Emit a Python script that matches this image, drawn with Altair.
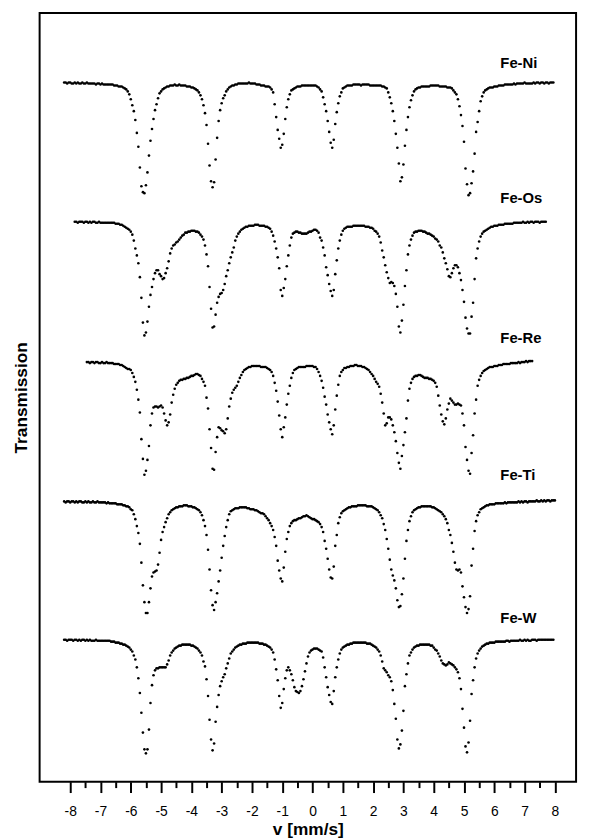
import altair as alt
import pandas as pd

# channel grid of the spectra (mm/s)
V0 = -8.20
DV = 0.05

samples = ["Fe-Ni", "Fe-Os", "Fe-Re", "Fe-Ti", "Fe-W"]
first_channel = [0, 7, 15, 0, 0]
offset_pct = [0.0, 14.1, 28.3, 42.4, 56.4]      # vertical shift of each spectrum (%)
label_pct = [102.0, 88.3, 74.1, 60.3, 45.8]      # level of the sample labels (%)
label_v = 6.2

tick_values = [-8, -7.5, -7, -6.5, -6, -5.5, -5, -4.5, -4, -3.5, -3, -2.5, -2, -1.5, -1, -0.5,
               0, 0.5, 1, 1.5, 2, 2.5, 3, 3.5, 4, 4.5, 5, 5.5, 6, 6.5, 7, 7.5, 8]

# absorption in per mille, one value per channel
abs_fe_ni = [
    0,0,1,0,0,1,1,0,1,0, 1,1,0,1,1,0,1,1,1,1, 1,2,1,1,2,1,2,2,2,2, 2,2,2,3,3,3,4,4,4,5,
    6,7,9,12,17,23,29,38,51,65, 86,105,111,112,104,91,74,59,47,37, 28,22,16,11,9,7,6,5,4,4,
    3,3,3,2,3,3,2,3,3,3, 3,4,4,4,5,5,6,7,8,10, 13,17,23,31,43,62,84,100,106,101,
    78,56,39,28,21,16,13,9,7,5, 4,3,3,2,2,1,1,1,1,1, 1,1,0,1,1,1,1,2,2,2,
    3,3,3,4,4,4,5,7,10,22, 35,48,57,66,63,52,37,25,17,12, 8,7,6,5,4,4,4,3,3,3,
    3,3,3,3,3,3,3,4,5,7, 9,15,22,29,39,50,61,66,58,42, 30,21,14,10,6,5,4,3,3,3,
    3,2,2,2,2,2,3,2,2,2, 2,2,3,3,3,3,3,3,3,3, 4,4,5,6,10,15,21,29,39,52,
    66,82,100,96,83,64,48,35,25,18, 13,9,7,6,5,5,4,4,4,4, 4,4,3,3,3,3,3,3,4,4,
    4,4,4,5,5,5,6,8,10,12, 17,24,33,44,60,87,103,114,112,102, 90,72,50,40,29,19,14,10,8,7,
    6,5,5,5,4,4,4,3,3,3, 3,2,2,2,2,2,2,1,2,1, 1,1,1,1,0,1,1,1,1,1, 0,1,0,0,1,0,0,1,0,0,
    1,0,0,0,
]

abs_fe_os = [
    0,0,1,
    0,0,0,1,0,0,1,0,1,0, 0,1,1,0,1,1,1,1,1,1, 1,1,1,1,2,2,2,3,3,4,
    5,6,7,8,10,13,19,27,34,42, 56,77,102,115,112,101,86,74,66,58, 52,49,49,53,55,58,57,52,47,40,
    32,27,24,23,21,20,18,16,14,13, 11,11,10,10,9,9,9,10,10,11, 13,15,18,24,33,45,66,88,107,106,
    94,82,76,73,72,69,63,55,49,42, 36,31,26,19,15,12,10,8,7,6, 5,5,4,4,4,4,3,3,3,4,
    4,4,4,5,5,6,7,10,14,20, 27,36,47,69,75,67,58,45,34,24, 16,12,11,10,10,11,11,12,12,12,
    12,11,10,10,9,8,8,9,11,16, 19,26,34,46,54,63,70,75,69,53, 39,27,19,13,9,7,6,5,5,5,
    5,4,4,4,4,4,4,4,4,5, 5,5,6,6,7,9,10,12,15,21, 29,36,44,51,57,62,61,62,65,73,
    86,106,112,100,84,65,49,33,24,18, 14,11,10,10,9,9,9,10,10,11, 12,12,13,14,15,17,18,20,24,26,
    31,37,42,48,55,56,52,47,44,44, 46,52,59,69,81,97,108,113,113,96, 82,58,37,27,20,15,12,10,9,8,
    7,6,5,5,4,4,4,3,3,3, 3,2,2,2,2,2,2,1,1,1, 1,1,1,0,1,1,0,1,0,0, 1,0,0,0,1,0,0,0,0,
]

abs_fe_re = [
    0,0,1,0,0,
    1,0,0,1,1,0,1,1,0,1, 1,1,1,2,2,2,2,3,3,4,
    5,6,7,7,8,11,15,20,28,38, 51,78,98,114,110,99,85,64,52,46, 45,45,46,45,44,46,52,59,64,61,
    53,41,33,27,23,21,19,18,18,17, 17,16,16,15,14,14,13,12,12,13, 14,17,20,24,36,47,68,87,108,109,
    91,76,66,67,69,70,72,68,57,45, 37,31,28,26,24,20,16,13,10,8, 7,6,5,5,4,4,4,4,4,4,
    5,5,5,5,6,7,8,10,14,21, 29,40,54,68,76,66,56,43,32,24, 16,11,8,7,6,5,5,5,5,5,
    4,4,4,4,4,5,5,7,10,14, 19,26,35,43,53,61,68,73,64,48, 34,23,14,10,8,6,6,5,5,4,
    4,4,3,3,4,4,4,5,5,6, 7,8,10,12,14,17,20,22,25,32, 41,52,64,62,56,56,58,64,71,80,
    92,102,108,95,84,71,57,39,27,21, 17,15,14,14,13,13,14,15,16,16, 16,17,17,18,19,21,25,34,44,53,
    60,63,57,48,42,37,39,41,43,43, 42,43,44,52,64,86,99,110,113,92, 74,52,38,24,18,14,11,9,8,7,
    6,5,5,5,4,4,4,3,3,3, 2,2,2,2,2,1,1,1,1,1, 0,1,0,0,0,-1,0,-1,-1,-1,
]

abs_fe_ti = [
    0,1,0,0,1,0,0,1,0,1, 0,0,1,1,0,1,0,1,1,0, 1,1,0,1,1,1,1,1,2,1, 2,2,2,2,2,3,3,3,3,4,
    4,5,5,6,8,9,13,18,25,32, 43,62,85,102,113,113,102,88,76,72, 71,70,64,52,39,31,26,21,17,13,
    11,9,8,7,6,6,5,5,5,4, 4,4,5,5,5,6,6,7,8,9, 11,14,19,25,34,49,69,90,105,110,
    102,93,81,70,57,45,35,26,19,13, 10,9,8,7,7,7,6,6,6,6, 6,7,7,8,8,8,9,9,10,11,
    12,12,13,15,17,19,22,25,29,36, 45,60,70,78,81,67,51,38,31,25, 22,20,19,19,18,17,17,16,15,15,
    14,15,16,17,18,18,19,20,21,23, 26,31,40,48,58,69,77,78,66,45, 34,22,16,12,10,9,8,7,6,6,
    5,5,5,5,4,4,4,4,4,4, 5,5,5,5,6,7,8,9,11,14, 17,23,29,38,48,59,69,75,80,88,
    100,107,106,94,78,58,40,29,20,15, 11,9,8,7,6,6,5,5,5,5, 5,5,5,6,6,7,8,9,10,11,
    13,15,18,22,29,34,42,51,62,69, 70,69,72,86,97,107,113,109,96,65, 48,30,20,14,11,8,7,6,5,4,
    4,3,3,3,3,2,2,2,2,2, 2,1,2,1,1,1,1,1,1,1, 0,1,0,1,0,0,1,0,0,0, 0,0,-1,0,0,-1,0,-1,0,-1,
    -1,0,-1,-1,-1,
]

abs_fe_w = [
    0,0,1,0,0,0,1,0,0,1, 0,1,0,0,1,0,1,0,1,1, 1,0,1,1,1,1,1,1,1,1, 1,2,2,2,3,3,3,4,4,5,
    5,6,7,8,10,12,16,20,28,39, 54,74,94,111,115,111,91,64,46,36, 31,29,29,28,28,28,28,28,25,21,
    16,13,11,9,8,7,6,6,5,5, 5,5,5,5,6,6,7,8,9,11, 13,16,22,27,40,57,81,101,112,105,
    83,68,56,47,42,38,35,29,24,19, 14,12,10,8,7,6,5,5,4,4, 4,3,3,3,3,3,3,3,3,4,
    4,4,5,5,6,7,8,10,13,20, 30,41,57,69,64,50,39,31,28,31, 35,41,48,52,53,54,52,47,40,32,
    24,17,13,11,10,9,9,9,10,11, 12,18,28,38,48,56,63,65,52,38, 28,20,14,10,8,7,6,5,5,4,
    4,3,3,3,3,3,3,3,3,3, 4,4,4,5,6,7,8,10,12,16, 22,29,31,33,36,38,42,51,65,80,
    101,110,106,92,72,47,35,24,16,13, 10,8,7,6,6,5,5,5,5,5, 5,5,6,6,8,10,11,14,17,21,
    24,25,26,25,23,24,25,26,28,30, 33,39,50,70,89,108,114,104,82,55, 41,28,19,14,11,9,7,6,5,4,
    4,3,3,3,3,2,2,2,2,2, 2,2,1,1,2,1,1,1,1,1, 1,0,1,1,0,1,0,1,1,0, 0,0,1,0,0,0,0,0,0,0,
    0,0,0,0,
]

spectra = [abs_fe_ni, abs_fe_os, abs_fe_re, abs_fe_ti, abs_fe_w]

rows = []
for name, start, off, arr in zip(samples, first_channel, offset_pct, spectra):
    for k, a in enumerate(arr):
        t = 100.0 - a / 10.0
        rows.append({"sample": name, "v": round(V0 + DV * (start + k), 3), "T": t, "y": t - off})
df = pd.DataFrame(rows)

labels = pd.DataFrame({"sample": samples, "v": [label_v] * len(samples), "y": label_pct})

FONT = "Liberation Sans"
XMIN, XMAX = -9.01, 8.70
YMAX = 107.03
YMIN = YMAX - 77.8

x_enc = alt.X(
    "v:Q",
    scale=alt.Scale(domain=[XMIN, XMAX], nice=False, zero=False),
    axis=alt.Axis(
        values=tick_values,
        labelExpr="datum.value % 1 === 0 ? '' + datum.value : ''",
        tickSize=alt.condition("datum.value % 1 === 0", alt.value(11), alt.value(6)),
        tickWidth=2,
        tickColor="black",
        domain=False,
        grid=False,
        labelOverlap=False,
        labelFlush=False,
        labelFont=FONT,
        labelFontSize=14,
        labelColor="black",
        labelPadding=12,
        title="v [mm/s]",
        titleFont=FONT,
        titleFontSize=17.5,
        titleFontWeight="bold",
        titleColor="black",
        titlePadding=2,
    ),
)
y_enc = alt.Y(
    "y:Q",
    scale=alt.Scale(domain=[YMIN, YMAX], nice=False, zero=False),
    axis=alt.Axis(
        labels=False,
        ticks=False,
        domain=False,
        grid=False,
        title="Transmission",
        titleFont=FONT,
        titleFontSize=17.5,
        titleFontWeight="bold",
        titleColor="black",
        titlePadding=9,
    ),
)

points = alt.Chart(df).mark_circle(size=7, color="black", opacity=1).encode(x=x_enc, y=y_enc)
text = alt.Chart(labels).mark_text(
    align="left", baseline="middle", font=FONT, fontWeight="bold", fontSize=15, color="black"
).encode(x=x_enc, y=y_enc, text="sample:N")

chart = (
    alt.layer(points, text)
    .properties(
        width=543,
        height=778,
        autosize=alt.AutoSizeParams(type="none"),
        padding={"left": 32, "top": 0, "right": 6, "bottom": 60},
        background="white",
    )
    .configure_view(stroke="black", strokeWidth=2)
)

chart.save("out.html", embed_options={"renderer": "svg", "actions": False})
